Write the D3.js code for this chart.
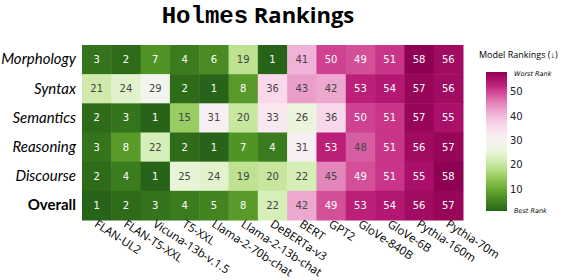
<!DOCTYPE html>
<html>
<head>
<meta charset="utf-8">
<script src="https://cdn.jsdelivr.net/npm/d3@7"></script>
<style>
  body { margin: 0; background: #fff; }
  svg { display: block; }
</style>
</head>
<body>
<script>
const W = 562, H = 280

// data
const models = ["FLAN-UL2", "FLAN-T5-XXL", "Vicuna-13b-v.1.5", "T5-XXL", "Llama-2-70b-chat",
  "Llama-2-13b-chat", "DeBERTa-v3", "BERT", "GPT2", "GloVe-840B", "GloVe-6B", "Pythia-160m", "Pythia-70m"]
const phenomena = ["Morphology", "Syntax", "Semantics", "Reasoning", "Discourse", "Overall"]
const morphology = [3, 2, 7, 4, 6, 19, 1, 41, 50, 49, 51, 58, 56]
const syntax     = [21, 24, 29, 2, 1, 8, 36, 43, 42, 53, 54, 57, 56]
const semantics  = [2, 3, 1, 15, 31, 20, 33, 26, 36, 50, 51, 57, 55]
const reasoning  = [3, 8, 22, 2, 1, 7, 4, 31, 53, 48, 51, 56, 57]
const discourse  = [2, 4, 1, 25, 24, 19, 20, 22, 45, 49, 51, 55, 58]
const overall    = [1, 2, 3, 4, 5, 8, 22, 42, 49, 53, 54, 56, 57]
const rows = [morphology, syntax, semantics, reasoning, discourse, overall]
const legendTicks = [10, 20, 30, 40, 50]
const rankMin = 1, rankMax = 58

const cells = []
rows.forEach((r, i) => r.forEach((v, j) => cells.push({row: phenomena[i], col: models[j], v: v})))

const svg = d3.select("body").append("svg").attr("width", W).attr("height", H)

const x = d3.scaleBand().domain(models).range([82, 463])
const y = d3.scaleBand().domain(phenomena).range([45, 220])
const color = d3.scaleSequential(t => d3.interpolatePiYG(1 - t)).domain([rankMin, rankMax])

// title
const title = svg.append("text").attr("x", 258).attr("y", 23).attr("text-anchor", "middle")
  .style("font-weight", "bold")
title.append("tspan").style("font-family", "'Liberation Mono', monospace").style("font-size", "24px").text("Holmes")
title.append("tspan").style("font-family", "'Open Sans', sans-serif").style("font-size", "22px").text(" Rankings")

// cells
svg.append("g").selectAll("rect")
  .data(cells).enter().append("rect")
  .attr("x", d => x(d.col))
  .attr("y", d => y(d.row))
  .attr("width", x.bandwidth() + 0.5)
  .attr("height", y.bandwidth() + 0.5)
  .attr("fill", d => color(d.v))

svg.append("g").selectAll("text")
  .data(cells).enter().append("text")
  .attr("x", d => x(d.col) + x.bandwidth() / 2)
  .attr("y", d => y(d.row) + y.bandwidth() / 2)
  .attr("dy", "0.35em")
  .attr("text-anchor", "middle")
  .style("font-family", "'DejaVu Sans', sans-serif")
  .style("font-size", "10px")
  .attr("fill", d => (d.v >= 15 && d.v <= 48) ? "#444" : "#fff")
  .text(d => d.v)

// row labels
const yAxis = svg.append("g").attr("transform", "translate(82,0)")
  .call(d3.axisLeft(y).tickSize(0).tickPadding(6))
yAxis.select(".domain").remove()
yAxis.selectAll("text")
  .style("font-family", "Lato, sans-serif")
  .style("font-size", "15px")
  .style("font-style", d => d === "Overall" ? "normal" : "italic")
  .style("font-weight", d => d === "Overall" ? "bold" : "normal")
  .attr("fill", "#000")

// column labels
const xAxis = svg.append("g").attr("transform", "translate(0,220)")
  .call(d3.axisBottom(x).tickSize(0).tickPadding(0))
xAxis.select(".domain").remove()
xAxis.selectAll("text")
  .style("font-family", "'Open Sans', sans-serif")
  .style("font-size", "11.5px")
  .attr("fill", "#000")
  .attr("text-anchor", "start")
  .attr("dy", 0)
  .attr("transform", "translate(-3,6) rotate(33)")

// colour legend
const ly = d3.scaleLinear().domain([rankMin, rankMax]).range([211, 72])
const grad = svg.append("defs").append("linearGradient").attr("id", "rk")
  .attr("x1", 0).attr("y1", 1).attr("x2", 0).attr("y2", 0)
d3.range(0, 1.001, 0.05).forEach(t => {
  grad.append("stop").attr("offset", t).attr("stop-color", color(rankMin + t * (rankMax - rankMin)))
})
svg.append("rect").attr("x", 486).attr("y", 72).attr("width", 21).attr("height", 139)
  .attr("fill", "url(#rk)")

const lAxis = svg.append("g").attr("transform", "translate(507,0)")
  .call(d3.axisRight(ly).tickValues(legendTicks).tickSize(0).tickPadding(3))
lAxis.select(".domain").remove()
lAxis.selectAll("text").style("font-family", "'DejaVu Sans', sans-serif").style("font-size", "10px")
  .attr("fill", "#222")

svg.append("text").attr("x", 479).attr("y", 58)
  .style("font-family", "'Open Sans', sans-serif").style("font-size", "9px")
  .text("Model Rankings (\u2193)")
svg.append("text").attr("x", 514).attr("y", 76)
  .style("font-family", "'DejaVu Sans', sans-serif").style("font-size", "6.5px").style("font-style", "italic")
  .text("Worst Rank")
svg.append("text").attr("x", 514).attr("y", 213)
  .style("font-family", "'DejaVu Sans', sans-serif").style("font-size", "6.5px").style("font-style", "italic")
  .text("Best Rank")
</script>
</body>
</html>
